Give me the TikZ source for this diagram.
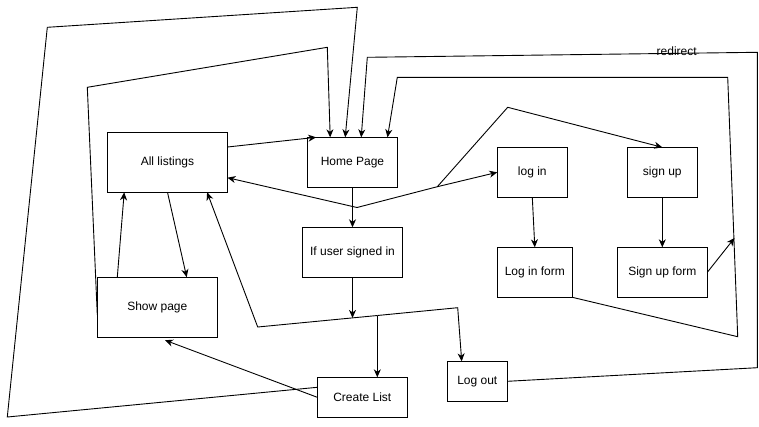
\documentclass[tikz,border=0pt]{standalone}
\usepackage{fontspec}
\setmainfont{Liberation Sans}
\usetikzlibrary{arrows.meta}
\begin{document}
\begin{tikzpicture}[x=1pt,y=-1pt,
  box/.style={draw,line width=0.9pt,inner sep=0pt,outer sep=0pt,
    font=\fontsize{12}{14}\selectfont},
  link/.style={line width=0.9pt,line join=miter},
  arr/.style={link,-{Stealth[length=8pt,width=7pt,inset=2.5pt]}}]
\fill[white] (0,0) rectangle (759,426);
\useasboundingbox (0,0) rectangle (759,426);

% pages
\node[box,minimum width=120pt,minimum height=60pt] (alllist) at (167.5,162.3) {All listings};
\node[box,minimum width=90pt,minimum height=50pt]  (home)    at (352.5,162.3) {Home Page};
\node[box,minimum width=70pt,minimum height=50pt]  (login)   at (532.3,172.3) {log in};
\node[box,minimum width=70pt,minimum height=50pt]  (signup)  at (662.3,172.3) {sign up};
\node[box,minimum width=100pt,minimum height=50pt] (ifuser)  at (352.5,252.3) {If user signed in};
\node[box,minimum width=120pt,minimum height=60pt] (show)    at (157.3,307.2) {Show page};
\node[box,minimum width=75pt,minimum height=50pt]  (loginform)  at (534.8,272.3) {Log in form};
\node[box,minimum width=90pt,minimum height=50pt]  (signupform) at (662.3,272.3) {Sign up form};
\node[box,minimum width=90pt,minimum height=40pt]  (create)  at (362.3,397.3) {Create List};
\node[box,minimum width=60pt,minimum height=40pt]  (logout)  at (477.3,381.3) {Log out};

% junction points
\coordinate (fork) at (357,207.5);
\coordinate (bend) at (437.3,186.7);
\coordinate (split) at (377.3,315.5);
\coordinate (hit) at (352.5,317.9);
\coordinate (rail) at (734.5,238);

% long loops back to the home page
\draw[arr] ([yshift=-10pt]create.north west) -- (7.3,417) -- (47.3,27.3) -- (357.3,7.3)
  -- ([xshift=37.7pt]home.north west);
\draw[arr] ([yshift=-37.7pt]show.north west) -- (87.3,87.3) -- (327.3,47.3)
  -- ([xshift=22.7pt]home.north west);
\draw[arr] (loginform.south east) -- (737.7,336.7) -- (727.7,77.3) -- (397.3,77.3)
  -- ([xshift=80pt]home.north west);
\draw[arr] (logout.east) -- (757.3,367.7) -- (757.3,52.3) -- (367.3,57.3)
  -- ([xshift=53.7pt]home.north west);
\node[font=\fontsize{12}{14}\selectfont,inner sep=0pt] (redirect) at (676.7,51.7) {redirect};

% home page and listings
\draw[arr] ([yshift=-14.7pt]alllist.north east) -- ([xshift=8.7pt]home.north west);
\draw[arr] (fork) -- ([yshift=-45.4pt]alllist.north east);
\draw[arr] (fork) -- (bend) -- (login.west);
\draw[arr] (bend) -- (507.7,107.3) -- (signup.north);
\draw[arr] (home.south) -- (ifuser.north);
\draw[arr] (ifuser.south) -- (hit);
\draw[arr] (split) -- (257.7,327) -- ([xshift=-20.4pt]alllist.south east);
\draw[arr] (split) -- (457.7,307.7) -- ([xshift=-15.6pt]logout.north);
\draw[arr] (split) -- ([xshift=15pt]create.north);

% listings and show page
\draw[arr] ([xshift=20pt]show.north west) -- ([xshift=16.7pt]alllist.south west);
\draw[arr] ([xshift=60pt]alllist.south west) -- ([xshift=29.4pt]show.north);
\draw[arr] ([yshift=-20pt]create.north west) -- ([xshift=67.7pt,yshift=-3pt]show.south west);

% authentication
\draw[arr] (login.south) -- (loginform.north);
\draw[arr] (signup.south) -- (signupform.north);
\draw[arr] (signupform.east) -- (rail);
\end{tikzpicture}
\end{document}
